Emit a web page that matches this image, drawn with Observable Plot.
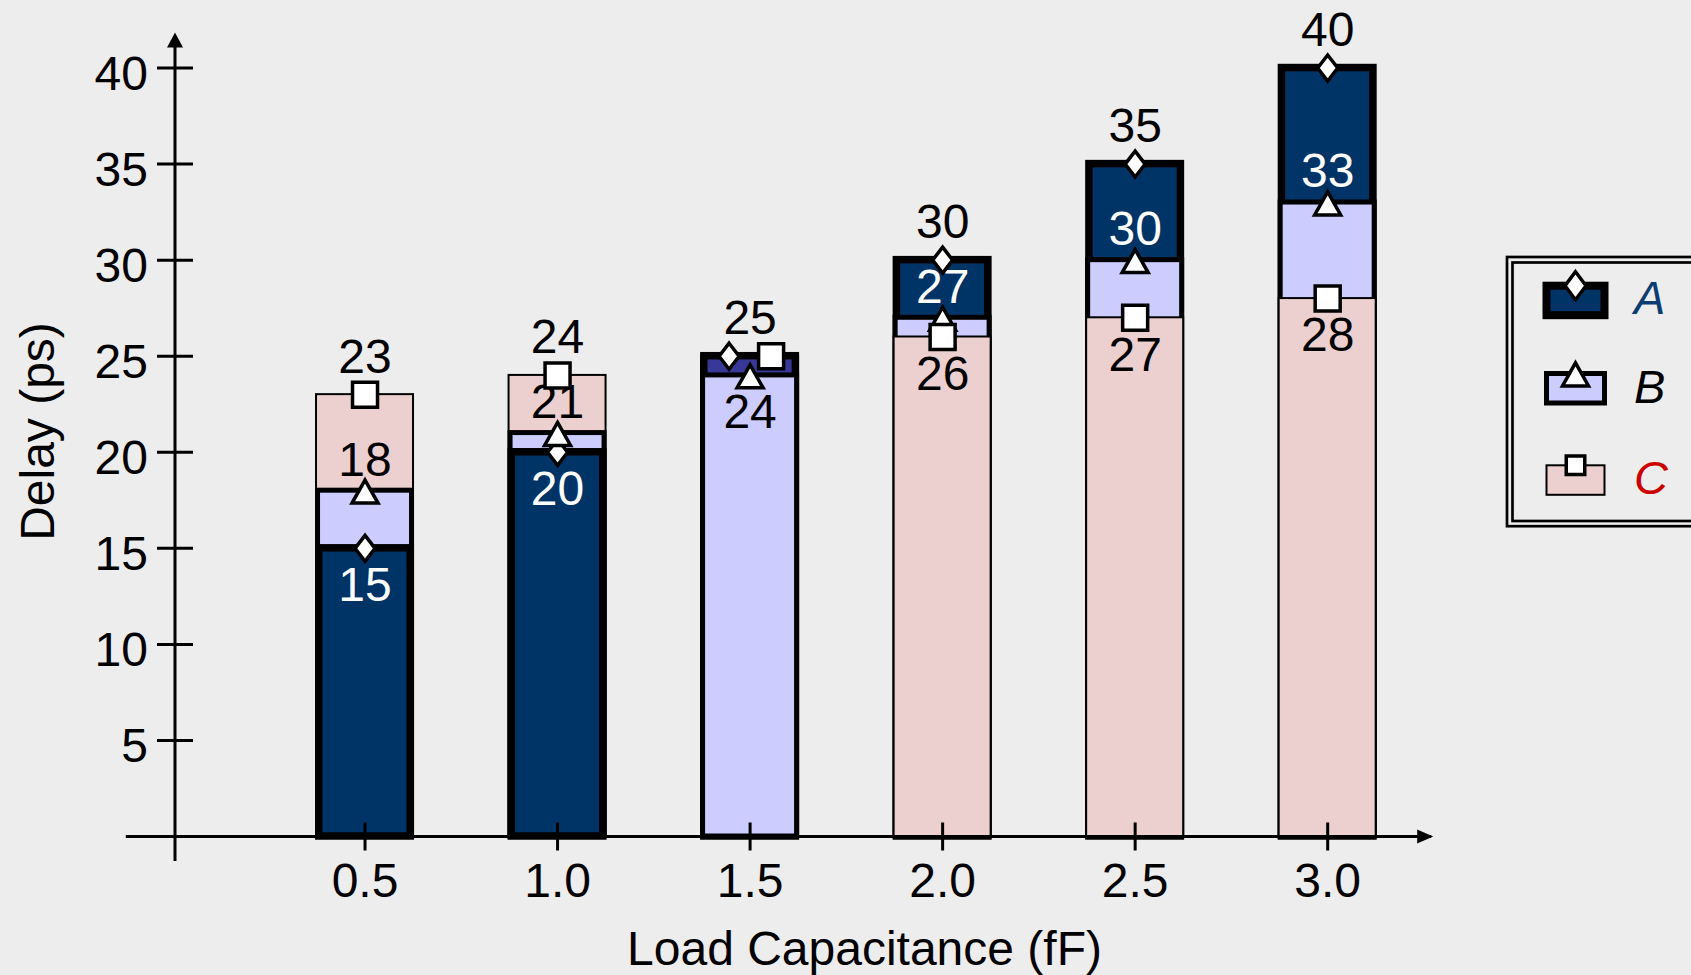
<!DOCTYPE html>
<html><head><meta charset="utf-8">
<script src="https://cdn.jsdelivr.net/npm/d3@7"></script>
<script src="https://cdn.jsdelivr.net/npm/@observablehq/plot@0.6"></script>
<style>
html,body{margin:0;padding:0;background:#ededed;overflow:hidden}
#wrap{position:relative;width:1691px;height:975px}
</style></head><body><div id="wrap"></div>
<script>
// ---- data ----
const loads = [0.5, 1.0, 1.5, 2.0, 2.5, 3.0];
const loadLabels = ["0.5", "1.0", "1.5", "2.0", "2.5", "3.0"];
const seriesNames = ["A", "B", "C"];
const delayA = [15, 20, 25, 30, 35, 40];
const delayB = [18, 21, 24, 27, 30, 33];
const delayC = [23, 24, 25, 26, 27, 28];
const yTicks = [5, 10, 15, 20, 25, 30, 35, 40];
const xTitle = "Load Capacitance (fF)";
const yTitle = "Delay (ps)";

// ---- layout & style ----
const W = 1691, H = 975, mL = 172, mR = 256, mT = 32, mB = 139;
const xDom = [0, 3.28], yDom = [0, 41.85];
const xAxisStart = -0.12, yAxisBottom = -1.3;
const pxX = (W - mL - mR) / (xDom[1] - xDom[0]);
const barHalf = 99 / 2 / pxX;
const fills = {A: "#003366", B: "#ccccff", C: "#ecd0d0"};
const tieFill = "#383898";
const strokeW = {A: 7.5, B: 5, C: 2};
const legendColors = {A: "#0b3d72", B: "#000000", C: "#cc0000"};
const font = '"Liberation Sans", Arial, Helvetica, sans-serif';
const FS = 48;

// ---- derived table ----
const values = {A: delayA, B: delayB, C: delayC};
const rows = [];
loads.forEach((x, i) => {
  const vals = seriesNames.map(s => ({s, v: values[s][i]}));
  const max = d3.max(vals, d => d.v), min = d3.min(vals, d => d.v);
  for (const {s, v} of vals) {
    const ties = vals.filter(o => o.v === v && o.s !== s);
    const higher = vals.filter(o => o.v > v).sort((a, b) => a.v - b.v)[0];
    rows.push({x, s, v, i,
      pos: v === max ? "top" : v === min ? "bottom" : "mid",
      tie: ties.length > 0,
      tieSide: ties.length ? (s < ties[0].s ? -1 : 1) : 0,
      next: higher ? higher.s : null});
  }
});
const barRows = rows.slice().sort((a, b) => b.v - a.v || d3.descending(a.s, b.s));
const seen = new Set();
const labelRows = rows.filter(d => {
  const k = d.x + "|" + d.v;
  if (seen.has(k)) return false;
  seen.add(k); return true;
});
const labelFill = d => (d.pos === "bottom" && d.s === "A") || (d.pos === "mid" && d.next === "A") ? "white" : "black";

// ---- symbols ----
const sym = f => ({draw: (ctx) => f(ctx)});
const diamond = sym(c => { c.moveTo(0, -13); c.lineTo(10, 0); c.lineTo(0, 13); c.lineTo(-10, 0); c.closePath(); });
const triangle = sym(c => { c.moveTo(0, -10.6); c.lineTo(13, 12.4); c.lineTo(-13, 12.4); c.closePath(); });
const square = sym(c => { c.rect(-12.5, -12.5, 25, 25); });
const hTick = sym(c => { c.moveTo(-18, 0); c.lineTo(18, 0); });
const vTick = sym(c => { c.moveTo(0, -14); c.lineTo(0, 14); });
const arrowUp = sym(c => { c.moveTo(0, 0); c.lineTo(8, 15); c.lineTo(-8, 15); c.closePath(); });
const arrowRight = sym(c => { c.moveTo(0, 0); c.lineTo(-16, -7); c.lineTo(-16, 7); c.closePath(); });
const markerSym = {A: diamond, B: triangle, C: square};

const ax = 2.5; // y-axis line offset
const marks = [
  Plot.rect(barRows, {
    x1: d => d.x - barHalf + strokeW[d.s] / 2 / pxX,
    x2: d => d.x + barHalf - strokeW[d.s] / 2 / pxX,
    y1: 0, y2: "v",
    fill: d => d.s === "A" && d.tie ? tieFill : fills[d.s],
    stroke: "black",
    strokeWidth: d => strokeW[d.s]
  }),
  // axes
  Plot.ruleY([0], {x1: xAxisStart, x2: xDom[1] - 0.01, stroke: "black", strokeWidth: 3}),
  Plot.ruleX([0], {y1: yAxisBottom, y2: yDom[1] - 0.5, stroke: "black", strokeWidth: 3, dx: ax}),
  Plot.dot([0], {x: 0, y: yDom[1], symbol: arrowUp, r: 5, fill: "black", stroke: "none", dx: ax}),
  Plot.dot([0], {x: xDom[1] - 0.006, y: 0, symbol: arrowRight, r: 5, fill: "black", stroke: "none"}),
  Plot.dot(yTicks, {x: 0, y: d => d, symbol: hTick, r: 5, fill: "none", stroke: "black", strokeWidth: 3, dx: ax}),
  Plot.dot(loads, {x: d => d, y: 0, symbol: vTick, r: 5, fill: "none", stroke: "black", strokeWidth: 3}),
  Plot.text(yTicks, {x: 0, y: d => d, text: d => String(d), textAnchor: "end", lineAnchor: "middle", dx: -27 + ax, dy: 6.5, fontSize: FS, fill: "black"}),
  Plot.text(loads, {x: d => d, y: 0, text: (d, i) => loadLabels[i], lineAnchor: "middle", dy: 45.3, fontSize: FS, fill: "black"}),
  Plot.text([xTitle], {frameAnchor: "bottom", text: d => d, textAnchor: "middle", lineAnchor: "middle", dx: 60.5, dy: 113.6, fontSize: FS, fill: "black"}),
  Plot.text([yTitle], {frameAnchor: "left", text: d => d, textAnchor: "middle", lineAnchor: "middle", rotate: -90, dx: -133.4, dy: -3, fontSize: FS, fill: "black"}),
  // value labels
  Plot.text(labelRows.filter(d => d.pos === "top"), {x: "x", y: "v", text: d => String(d.v), lineAnchor: "middle", dy: -37.5, fontSize: FS, fill: labelFill}),
  Plot.text(labelRows.filter(d => d.pos === "mid"), {x: "x", y: "v", text: d => String(d.v), lineAnchor: "middle", dy: -30.5, fontSize: FS, fill: labelFill}),
  Plot.text(labelRows.filter(d => d.pos === "bottom"), {x: "x", y: "v", text: d => String(d.v), lineAnchor: "middle", dy: 37.5, fontSize: FS, fill: labelFill}),
  // markers
  ...seriesNames.map(s => Plot.dot(rows.filter(d => d.s === s), {
    x: d => d.x + d.tieSide * 21 / pxX, y: "v", symbol: markerSym[s], r: 5,
    fill: "white", stroke: "black", strokeWidth: 3.5, strokeLinejoin: "miter"
  }))
];

const chart = Plot.plot({
  width: W, height: H, marginLeft: mL, marginRight: mR, marginTop: mT, marginBottom: mB,
  x: {domain: xDom, axis: null}, y: {domain: yDom, axis: null},
  color: {type: "identity"},
  style: {background: "#ededed", fontFamily: font, overflow: "visible"},
  marks
});
document.getElementById("wrap").appendChild(chart);

// ---- legend ----
const LX = 1504, LY = 254;
const leg = d3.select("#wrap").append("svg")
  .attr("width", W - LX).attr("height", 276)
  .style("position", "absolute").style("left", LX + "px").style("top", LY + "px")
  .style("font-family", font);
leg.append("rect").attr("x", 3).attr("y", 3).attr("width", 400).attr("height", 269.2)
  .attr("fill", "none").attr("stroke", "black").attr("stroke-width", 2.7);
leg.append("rect").attr("x", 8.5).attr("y", 8.5).attr("width", 400).attr("height", 258.5)
  .attr("fill", "none").attr("stroke", "black").attr("stroke-width", 2.7);
const legTops = {A: 31.7, B: 119.5, C: 211.3};
const legBase = {A: 60.3, B: 149.3, C: 240};
const legSym = {
  A: "M0,-14L10.5,0L0,14L-10.5,0Z",
  B: "M0,-10.6L13,12.4L-13,12.4Z",
  C: "M-9.25,-9.25h18.5v18.5h-18.5Z"
};
for (const s of seriesNames) {
  leg.append("rect").attr("x", 42.5).attr("y", legTops[s]).attr("width", 58).attr("height", 29.5)
    .attr("fill", fills[s]).attr("stroke", "black").attr("stroke-width", strokeW[s] === 7.5 ? 8 : strokeW[s]);
  leg.append("path").attr("d", legSym[s]).attr("transform", `translate(71.5,${legTops[s]})`)
    .attr("fill", "white").attr("stroke", "black").attr("stroke-width", 3.5);
  leg.append("text").attr("x", 130).attr("y", legBase[s]).text(s)
    .attr("font-size", 47).attr("font-style", "italic").attr("fill", legendColors[s]);
}
</script></body></html>
